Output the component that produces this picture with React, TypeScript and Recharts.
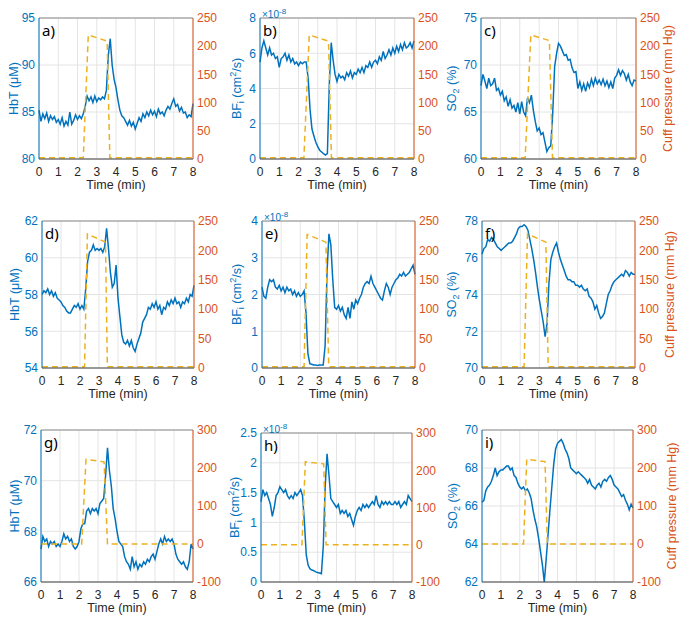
import React from "react";
import { ComposedChart, Line, XAxis, YAxis, CartesianGrid, ReferenceLine } from "recharts";

// time axis, minutes
const TIME = [
  0, 0.1, 0.2, 0.3, 0.4, 0.5, 0.6, 0.7, 0.8, 0.9,
  1, 1.1, 1.2, 1.3, 1.4, 1.5, 1.6, 1.7, 1.8, 1.9,
  2, 2.1, 2.2, 2.3, 2.4, 2.5, 2.6, 2.7, 2.8, 2.9,
  3, 3.1, 3.2, 3.3, 3.4, 3.5, 3.6, 3.7, 3.8, 3.9,
  4, 4.1, 4.2, 4.3, 4.4, 4.5, 4.6, 4.7, 4.8, 4.9,
  5, 5.1, 5.2, 5.3, 5.4, 5.5, 5.6, 5.7, 5.8, 5.9,
  6, 6.1, 6.2, 6.3, 6.4, 6.5, 6.6, 6.7, 6.8, 6.9,
  7, 7.1, 7.2, 7.3, 7.4, 7.5, 7.6, 7.7, 7.8, 7.9,
  8,
];
const X_TICKS = [0, 1, 2, 3, 4, 5, 6, 7, 8];

// blue traces
const HBT_A = [
  85.2, 84.0, 84.8, 84.3, 84.9, 84.0, 84.6, 84.2, 84.5, 83.9,
  84.2, 83.7, 84.4, 83.5, 84.0, 83.6, 85.0, 83.7, 84.1, 84.7,
  84.2, 84.6, 84.3, 84.8, 85.6, 86.7, 86.2, 86.6, 86.0, 86.7,
  86.1, 86.5, 86.3, 86.6, 86.4, 87.3, 91.0, 92.8, 90.0, 88.5,
  87.6, 86.3, 85.2, 84.6, 84.4, 84.0, 83.6, 84.1, 83.5, 83.9,
  83.2, 83.8, 84.4, 84.0, 84.8, 84.4, 85.0, 84.6, 85.2, 84.7,
  85.1, 84.5, 85.3, 84.8, 85.0, 84.6, 85.2, 85.6, 85.3, 85.9,
  86.4, 85.6, 85.8, 85.1, 85.5, 84.9, 85.0, 84.4, 84.7, 84.5,
  85.9,
];
const BF_B = [
  5.5, 6.3, 6.7, 6.3, 5.9, 6.3, 5.9, 6.0, 5.7, 5.8,
  5.2, 5.7, 5.8, 6.0, 5.6, 5.9, 5.5, 5.7, 5.4, 5.5,
  5.3, 5.5, 5.4, 5.5, 5.5, 4.6, 2.8, 1.7, 1.3, 0.95,
  0.7, 0.5, 0.4, 0.3, 0.22, 0.3, 4.2, 6.6, 5.6, 4.8,
  4.4, 4.8, 4.6, 4.7, 4.5, 4.9, 4.7, 5.0, 4.6, 4.9,
  4.8, 5.1, 4.9, 5.2, 4.9, 5.3, 5.2, 5.5, 5.2, 5.5,
  5.6, 5.4, 5.8, 5.6, 6.1, 5.7, 5.9, 6.2, 5.9, 6.3,
  6.0, 6.4, 6.1, 6.5, 6.2, 6.6, 6.3, 6.4, 6.6, 6.3,
  6.7,
];
const SO2_C = [
  67.8, 69.0, 68.3, 67.5, 68.6, 67.8, 68.0, 68.6, 67.3, 67.5,
  66.8, 67.2, 66.2, 66.6, 65.6, 66.3, 65.4, 65.7, 65.0, 66.0,
  64.8, 66.1, 65.0, 64.6, 66.5, 66.0, 66.8, 65.2, 64.0, 63.0,
  63.3, 62.6, 62.8, 61.8, 60.8, 61.2, 61.4, 64.8, 69.8, 71.2,
  72.3, 72.0, 71.5, 71.0, 71.1, 70.5, 70.6, 69.7, 69.2, 69.3,
  67.5, 68.2, 67.3, 68.0, 67.2, 68.1, 67.6, 68.5, 67.8, 68.6,
  68.0, 68.4, 67.9, 68.5, 67.8, 68.3, 67.6, 68.2, 67.5, 68.6,
  68.9, 69.5, 68.9, 69.4, 69.1, 68.4, 69.0, 68.2, 67.8, 68.4,
  68.3,
];
const HBT_D = [
  58.0, 58.2, 58.1, 58.3, 58.0, 58.2, 57.9, 58.1, 57.8, 57.7,
  57.6, 57.4, 57.3, 57.1, 57.0, 57.0, 57.2, 57.4, 57.3, 57.5,
  57.2, 57.4, 57.2, 58.3, 59.8, 60.3, 60.4, 60.7, 60.4, 60.5,
  60.4, 60.5, 60.3, 60.6, 61.6, 60.5, 59.2, 58.4, 58.6, 59.6,
  57.8, 56.8, 55.8, 55.4, 55.3, 55.5, 55.2, 55.5, 55.1, 54.9,
  55.3, 55.6, 55.9, 56.5, 56.7, 56.9, 57.3, 57.2, 57.5, 57.3,
  57.6, 57.2, 57.4, 56.9, 57.3, 57.2, 57.6, 57.4, 57.7, 57.5,
  57.8, 57.5, 57.6, 57.3, 57.6, 57.5, 57.8, 57.6, 58.0, 57.9,
  58.5,
];
const BF_E = [
  2.2, 1.95, 1.9, 2.2, 2.4, 2.35, 2.4, 2.2, 2.15, 2.25,
  2.1, 2.2, 2.05, 2.2, 2.1, 2.15, 2.0, 2.1, 1.95, 2.05,
  1.95, 2.0, 2.1, 1.5, 0.4, 0.12, 0.1, 0.08, 0.08, 0.07,
  0.08, 0.08, 0.08, 0.6, 2.6, 3.65, 3.35, 2.4, 1.65, 1.6,
  1.7, 1.55, 1.65, 1.45, 1.35, 1.65, 1.35, 1.8, 1.6, 1.85,
  1.75, 1.9, 2.0, 2.2, 2.3, 2.35, 2.3, 2.5, 2.3, 2.2,
  2.1, 2.0, 1.9, 1.85, 2.1, 2.3, 2.2, 2.0, 2.2, 2.3,
  2.4, 2.45, 2.55, 2.5, 2.6, 2.5, 2.55, 2.6, 2.7, 2.8,
  2.55,
];
const SO2_F = [
  76.2, 76.5, 76.6, 77.0, 76.9, 77.1, 77.0, 76.8, 76.6, 76.5,
  76.4, 76.5, 76.6, 76.7, 76.8, 76.8, 76.9, 77.1, 77.3, 77.6,
  77.7, 77.7, 77.8, 77.7, 77.5, 77.0, 76.5, 75.9, 75.2, 74.4,
  73.7, 73.1, 72.5, 71.7, 72.4, 74.6, 75.9, 76.3, 76.6, 76.8,
  76.3, 75.9, 75.6, 75.3, 75.0, 74.8, 74.8, 74.7, 74.7, 74.5,
  74.5, 74.4, 74.5, 74.3, 74.2, 74.3, 73.9, 73.8, 73.6, 73.2,
  73.4, 73.0, 72.7, 72.8, 73.0, 73.5, 74.0, 74.2, 74.5, 74.7,
  74.8, 74.9, 75.0, 75.1, 75.0, 75.3, 75.2, 75.0, 75.2, 75.1,
  75.1,
];
const HBT_G = [
  67.3, 67.8, 67.6, 67.7, 67.4, 67.6, 67.5, 67.6, 67.4, 67.5,
  67.4, 67.6, 67.9, 67.7, 67.8, 67.6, 67.7, 67.4, 67.3, 67.4,
  67.6, 68.1, 68.3, 68.3, 68.8, 68.9, 68.7, 68.9, 68.8, 68.9,
  68.7, 69.1, 69.2, 69.3, 70.2, 71.3, 70.4, 69.8, 68.9, 68.5,
  68.0, 67.6, 67.5, 67.4, 67.0, 66.8, 66.7, 66.5, 67.0, 66.6,
  66.8, 66.5, 66.7, 66.6, 66.8, 66.7, 66.9, 66.8, 67.0, 67.1,
  66.9, 67.2, 67.5, 67.7, 67.5, 67.8, 67.6, 67.7, 67.6, 67.7,
  67.5, 67.1, 66.9, 66.8, 66.7, 66.8, 66.6, 66.5, 66.8, 67.5,
  67.3,
];
const BF_H = [
  1.35, 1.55, 1.45, 1.5, 1.4, 1.3, 1.1, 1.25, 1.45, 1.5,
  1.6, 1.55, 1.5, 1.55, 1.45, 1.4, 1.45, 1.4, 1.5, 1.45,
  1.5, 1.55, 1.45, 1.0, 0.45, 0.28, 0.22, 0.2, 0.19, 0.17,
  0.16, 0.15, 0.14, 0.6, 1.6, 2.15, 1.8, 1.4, 1.35, 1.3,
  1.25, 1.3, 1.15, 1.2, 1.15, 1.2, 1.1, 1.15, 1.05, 0.95,
  1.1, 1.2, 1.25, 1.2, 1.3, 1.25, 1.3, 1.25, 1.3, 1.35,
  1.3, 1.45, 1.3, 1.25, 1.35, 1.3, 1.35, 1.3, 1.35, 1.3,
  1.3, 1.35, 1.3, 1.35, 1.25, 1.3, 1.35, 1.3, 1.45, 1.4,
  1.35,
];
const SO2_I = [
  66.2, 66.3, 66.8, 67.0, 67.1, 67.3, 67.6, 68.0, 67.6, 67.8,
  67.9, 67.9, 68.0, 68.1, 68.1, 67.9, 68.0, 67.6, 67.5, 67.2,
  67.0, 66.9, 67.0, 66.8, 66.9, 66.7, 66.4, 65.8, 65.3, 64.9,
  64.3, 63.6, 62.9, 62.0, 63.2, 64.5, 65.8, 67.0, 68.2, 69.0,
  69.3, 69.4, 69.5, 69.3, 69.0, 68.8, 68.5, 68.0, 67.9, 67.8,
  67.7, 67.8, 67.7, 67.6, 67.5, 67.4, 67.2, 67.4, 67.1, 67.0,
  66.9, 67.1, 67.2, 67.0, 67.3, 67.4, 67.3, 67.5, 67.6, 67.4,
  67.1, 67.0, 66.9, 66.7, 66.5, 66.6, 66.3, 66.1, 65.8, 66.1,
  65.9,
];

// cuff pressure (mm Hg), breakpoints
const CUFF_T_A = [0, 2.3, 2.56, 3.54, 3.68, 8];
const CUFF_P_A = [2, 2, 220, 209, 2, 2];
const CUFF_T_B = [0, 2.28, 2.56, 3.56, 3.71, 8];
const CUFF_P_B = [2, 2, 220, 209, 2, 2];
const CUFF_T_C = [0, 2.28, 2.57, 3.53, 3.69, 8];
const CUFF_P_C = [2, 2, 220, 210, 2, 2];
const CUFF_T_D = [0, 2.24, 2.39, 3.34, 3.44, 8];
const CUFF_P_D = [2, 2, 228, 214, 2, 2];
const CUFF_T_E = [0, 2.2, 2.36, 3.34, 3.49, 8];
const CUFF_P_E = [2, 2, 227, 214, 2, 2];
const CUFF_T_F = [0, 2.2, 2.38, 3.34, 3.46, 8];
const CUFF_P_F = [2, 2, 228, 214, 2, 2];
const CUFF_T_G = [0, 2.14, 2.37, 3.32, 3.5, 8];
const CUFF_P_G = [0, 0, 223, 216, 0, 0];
const CUFF_T_H = [0, 2.17, 2.35, 3.32, 3.45, 8];
const CUFF_P_H = [0, 0, 223, 217, 0, 0];
const CUFF_T_I = [0, 2.2, 2.37, 3.34, 3.46, 8];
const CUFF_P_I = [0, 0, 223, 217, 0, 0];

const CUFF_TICKS_250 = [0, 50, 100, 150, 200, 250];
const CUFF_TICKS_300 = [-100, 0, 100, 200, 300];

const BLUE = "#0072BD";
const ORANGE = "#D95319";
const GOLD = "#EDB120";
const FONT = "'Liberation Sans', Arial, sans-serif";

const L = 44;
const R = 48;
const T = 12;
const B = 36;

function AxisTitle({ x, y, color, children }: any) {
  return (
    <text
      x={x}
      y={y}
      transform={`rotate(-90 ${x} ${y})`}
      textAnchor="middle"
      dominantBaseline="central"
      fill={color}
      fontSize={12.5}
      fontFamily={FONT}
    >
      {children}
    </text>
  );
}

const HBT_TITLE = <>HbT (μM)</>;
const BF_TITLE = (
  <>
    BF<tspan dy={4} fontSize={9}>i</tspan>
    <tspan dy={-4}> (cm</tspan>
    <tspan dy={-4} fontSize={9}>2</tspan>
    <tspan dy={4}>/s)</tspan>
  </>
);
const SO2_TITLE = (
  <>
    SO<tspan dy={4} fontSize={9}>2</tspan>
    <tspan dy={-4}> (%)</tspan>
  </>
);

type PanelProps = {
  x: number;
  y: number;
  w: number;
  h: number;
  values: number[];
  leftDomain: [number, number];
  leftTicks: number[];
  cuffT: number[];
  cuffP: number[];
  rightDomain: [number, number];
  rightTicks: number[];
  letter: string;
  title: React.ReactNode;
  titleDist: number;
  cuffDist?: number;
  sci?: boolean;
};

function Panel(p: PanelProps) {
  const blue = TIME.map((t, i) => ({ t, v: p.values[i] }));
  const cuff = p.cuffT.map((t, i) => ({ t, p: p.cuffP[i] }));
  const tick = (color: string) => ({ fill: color, fontSize: 12, fontFamily: FONT });

  return (
    <div style={{ position: "absolute", left: p.x - L, top: p.y - T }}>
      <ComposedChart
        width={L + p.w + R}
        height={T + p.h + B}
        margin={{ top: T, right: 0, bottom: 0, left: 0 }}
      >
        <CartesianGrid yAxisId="left" stroke="#e4e4e4" />
        <XAxis
          type="number"
          dataKey="t"
          domain={[0, 8]}
          ticks={X_TICKS}
          height={B}
          tickLine={false}
          tickSize={0}
          tickMargin={8}
          tick={tick("#262626")}
          axisLine={{ stroke: "#404040" }}
          label={() => (
            <text
              x={L + p.w / 2}
              y={T + p.h + 30}
              textAnchor="middle"
              fill="#262626"
              fontSize={12.5}
              fontFamily={FONT}
            >
              Time (min)
            </text>
          )}
        />
        <YAxis
          yAxisId="left"
          width={L}
          domain={p.leftDomain}
          ticks={p.leftTicks}
          allowDataOverflow
          tickLine={false}
          tickSize={0}
          tickMargin={4}
          tick={tick(BLUE)}
          axisLine={{ stroke: BLUE }}
          label={() => (
            <AxisTitle x={L - p.titleDist} y={T + p.h / 2} color={BLUE}>
              {p.title}
            </AxisTitle>
          )}
        />
        <YAxis
          yAxisId="right"
          orientation="right"
          width={R}
          domain={p.rightDomain}
          ticks={p.rightTicks}
          allowDataOverflow
          tickLine={false}
          tickSize={0}
          tickMargin={4}
          tick={tick(ORANGE)}
          axisLine={{ stroke: ORANGE }}
          label={() =>
            p.cuffDist ? (
              <AxisTitle x={L + p.w + p.cuffDist} y={T + p.h / 2} color={ORANGE}>
                Cuff pressure (mm Hg)
              </AxisTitle>
            ) : null
          }
        />
        <ReferenceLine yAxisId="left" y={p.leftDomain[1]} stroke="#8c8c8c" />
        <Line
          yAxisId="left"
          data={blue}
          dataKey="v"
          type="linear"
          stroke={BLUE}
          strokeWidth={1.5}
          dot={false}
          isAnimationActive={false}
        />
        <Line
          yAxisId="right"
          data={cuff}
          dataKey="p"
          type="linear"
          stroke={GOLD}
          strokeWidth={1.5}
          strokeDasharray="6 4"
          dot={false}
          isAnimationActive={false}
        />
      </ComposedChart>
      <div
        style={{
          position: "absolute",
          left: L + 3,
          top: T + 5,
          fontSize: 15,
          lineHeight: "15px",
          fontFamily: "'Noto Sans', sans-serif",
          color: "#000",
        }}
      >
        {p.letter}
      </div>
      {p.sci && (
        <div
          style={{
            position: "absolute",
            left: L + 2,
            top: T - 11,
            fontSize: 10,
            lineHeight: "10px",
            fontFamily: FONT,
            color: BLUE,
            whiteSpace: "nowrap",
          }}
        >
          ×10<sup style={{ fontSize: 8, verticalAlign: "4px" }}>-8</sup>
        </div>
      )}
    </div>
  );
}

export default function App() {
  return (
    <div style={{ position: "absolute", left: 0, top: 0, width: 692, height: 623, background: "#fff", overflow: "hidden" }}>
      {/* row 1 */}
      <Panel x={39} y={18} w={154} h={141} values={HBT_A} leftDomain={[80, 95]} leftTicks={[80, 85, 90, 95]}
        cuffT={CUFF_T_A} cuffP={CUFF_P_A} rightDomain={[0, 250]} rightTicks={CUFF_TICKS_250}
        letter="a)" title={HBT_TITLE} titleDist={25} />
      <Panel x={260} y={18} w={154} h={141} values={BF_B} leftDomain={[0, 8]} leftTicks={[0, 2, 4, 6, 8]}
        cuffT={CUFF_T_B} cuffP={CUFF_P_B} rightDomain={[0, 250]} rightTicks={CUFF_TICKS_250}
        letter="b)" title={BF_TITLE} titleDist={23} sci />
      <Panel x={481} y={18} w={155} h={141} values={SO2_C} leftDomain={[60, 75]} leftTicks={[60, 65, 70, 75]}
        cuffT={CUFF_T_C} cuffP={CUFF_P_C} rightDomain={[0, 250]} rightTicks={CUFF_TICKS_250}
        letter="c)" title={SO2_TITLE} titleDist={29} cuffDist={32} />

      {/* row 2 */}
      <Panel x={42} y={221} w={152} h={147} values={HBT_D} leftDomain={[54, 62]} leftTicks={[54, 56, 58, 60, 62]}
        cuffT={CUFF_T_D} cuffP={CUFF_P_D} rightDomain={[0, 250]} rightTicks={CUFF_TICKS_250}
        letter="d)" title={HBT_TITLE} titleDist={27} />
      <Panel x={262} y={221} w={153} h={147} values={BF_E} leftDomain={[0, 4]} leftTicks={[0, 1, 2, 3, 4]}
        cuffT={CUFF_T_E} cuffP={CUFF_P_E} rightDomain={[0, 250]} rightTicks={CUFF_TICKS_250}
        letter="e)" title={BF_TITLE} titleDist={25} sci />
      <Panel x={482} y={221} w={153} h={147} values={SO2_F} leftDomain={[70, 78]} leftTicks={[70, 72, 74, 76, 78]}
        cuffT={CUFF_T_F} cuffP={CUFF_P_F} rightDomain={[0, 250]} rightTicks={CUFF_TICKS_250}
        letter="f)" title={SO2_TITLE} titleDist={30} cuffDist={35} />

      {/* row 3 */}
      <Panel x={41} y={430} w={152} h={152} values={HBT_G} leftDomain={[66, 72]} leftTicks={[66, 68, 70, 72]}
        cuffT={CUFF_T_G} cuffP={CUFF_P_G} rightDomain={[-100, 300]} rightTicks={CUFF_TICKS_300}
        letter="g)" title={HBT_TITLE} titleDist={26} />
      <Panel x={261} y={433} w={151} h={149} values={BF_H} leftDomain={[0, 2.5]} leftTicks={[0, 0.5, 1, 1.5, 2, 2.5]}
        cuffT={CUFF_T_H} cuffP={CUFF_P_H} rightDomain={[-100, 300]} rightTicks={CUFF_TICKS_300}
        letter="h)" title={BF_TITLE} titleDist={26} sci />
      <Panel x={482} y={430} w={151} h={152} values={SO2_I} leftDomain={[62, 70]} leftTicks={[62, 64, 66, 68, 70]}
        cuffT={CUFF_T_I} cuffP={CUFF_P_I} rightDomain={[-100, 300]} rightTicks={CUFF_TICKS_300}
        letter="i)" title={SO2_TITLE} titleDist={29} cuffDist={39} />
    </div>
  );
}
